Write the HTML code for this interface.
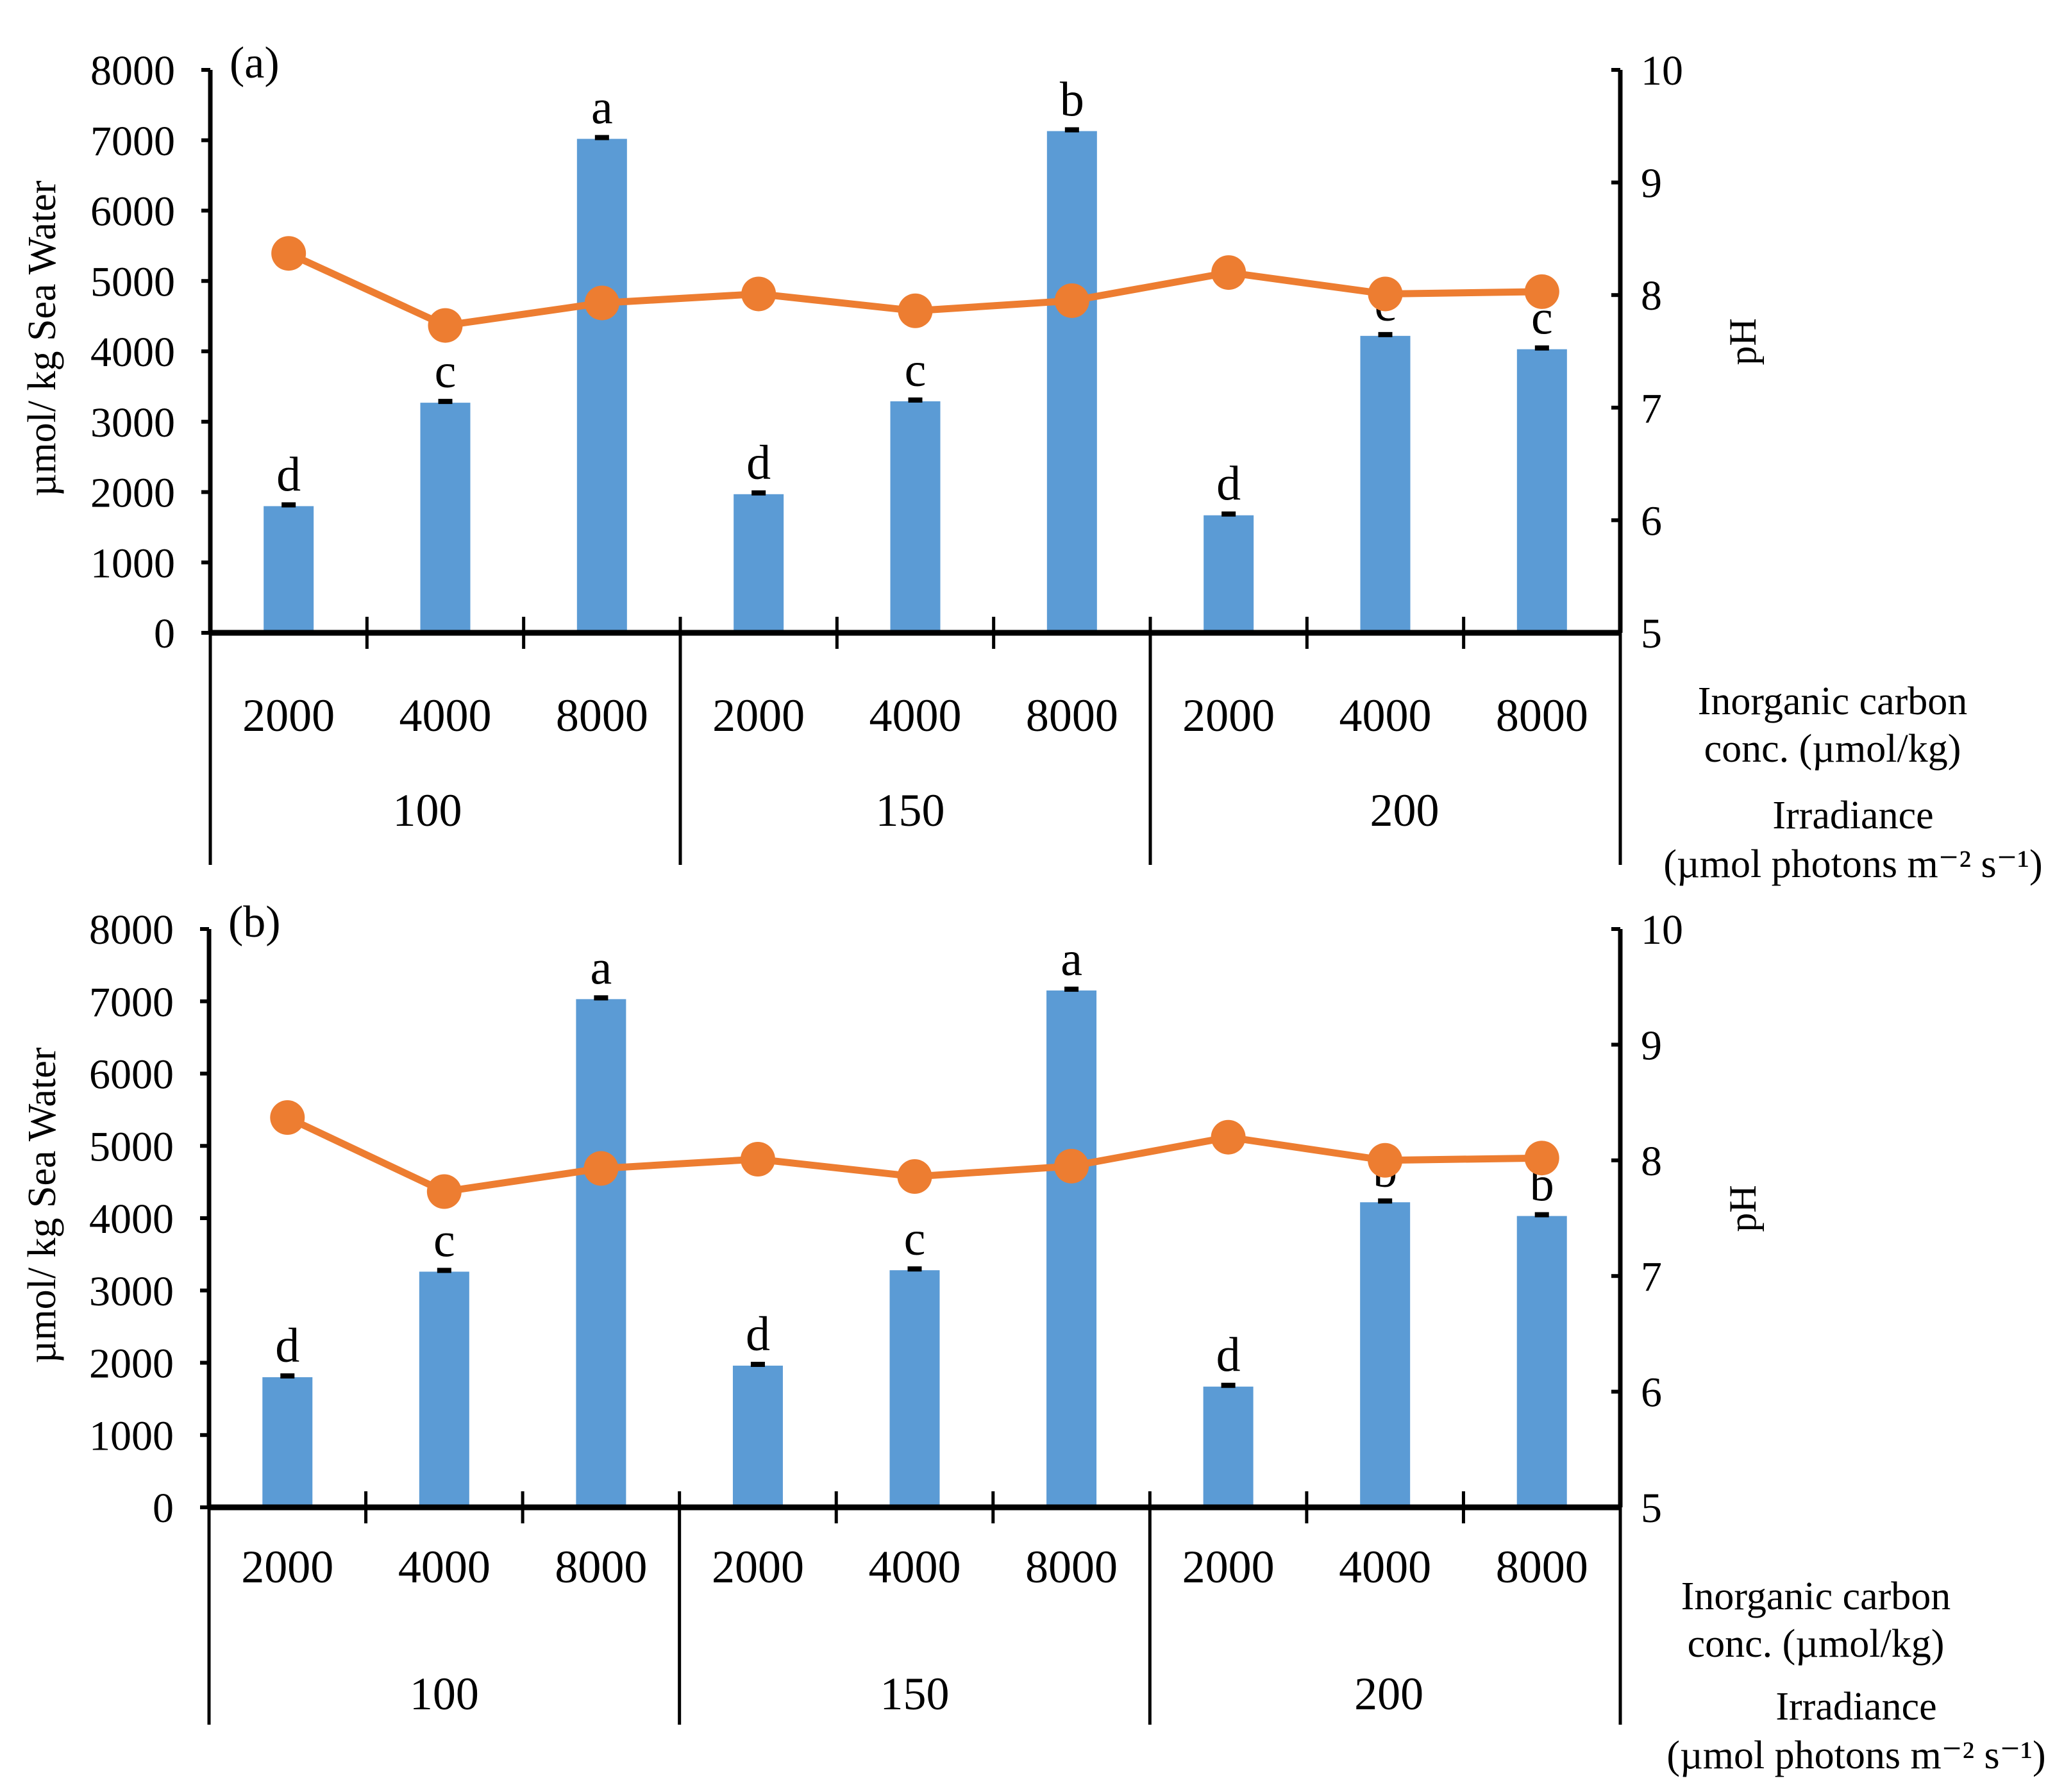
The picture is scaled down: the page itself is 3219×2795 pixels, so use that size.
<!DOCTYPE html>
<html><head><meta charset="utf-8"><style>
html,body{margin:0;padding:0;background:#fff;}
svg{display:block;font-family:"Liberation Serif",serif;}
</style></head><body>
<svg id="chart" width="3219" height="2795" viewBox="0 0 3219 2795" xmlns="http://www.w3.org/2000/svg"></svg>
<script>
const categories = ["2000","4000","8000","2000","4000","8000","2000","4000","8000"];
const groups = ["100","150","200"];
const barsA = [1800,3270,7020,1970,3290,7130,1670,4220,4030];
const barsB = [1800,3260,7030,1960,3280,7150,1670,4220,4030];
const phA = [8.37,7.73,7.93,8.01,7.86,7.95,8.20,8.01,8.03];
const phB = [8.37,7.73,7.93,8.01,7.86,7.95,8.20,8.00,8.02];
const lettersA = ["d","c","a","d","c","b","d","c","c"];
const lettersB = ["d","c","a","d","c","a","d","b","b"];
const leftTicks = [0,1000,2000,3000,4000,5000,6000,7000,8000];
const rightTicks = [5,6,7,8,9,10];

const svg = document.getElementById('chart');
const NS = 'http://www.w3.org/2000/svg';
function mk(tag, attrs, parent){const e=document.createElementNS(NS,tag);for(const k in attrs)e.setAttribute(k,attrs[k]);(parent||svg).appendChild(e);return e;}

function panel(p){
  const g = mk('g',{});
  
  
  const x0=p.x0, x1=p.x1, yTop=p.yTop, yBot=p.yBot;
  const cw=(x1-x0)/categories.length;
  const yL=v=>yBot-(v/8000)*(yBot-yTop);
  const yR=v=>yBot-((v-5)/5)*(yBot-yTop);
  const xc=i=>x0+cw*(i+0.5);
  p.bars.forEach((v,i)=>{
    const r=mk('rect',{x:xc(i)-39,y:yL(v),width:78,height:yBot-yL(v),fill:'#5b9bd5'},g);
    
    
    const eb=mk('rect',{x:xc(i)-11,y:yL(v)-6,width:22,height:8,fill:'#000'},g);
    
    
    const t=mk('text',{x:xc(i),y:yL(v)-24,'font-size':76,'text-anchor':'middle',fill:'#000'},g);
    t.textContent=p.letters[i];
    
    
  });
  const pts=p.ph.map((v,i)=>xc(i)+','+yR(v)).join(' ');
  const pl=mk('polyline',{points:pts,fill:'none',stroke:'#ed7d31','stroke-width':11},g);
  
  
  p.ph.forEach((v,i)=>{
    const c=mk('circle',{cx:xc(i),cy:yR(v),r:27,fill:'#ed7d31'},g);
    
    
  });
  const la=mk('line',{x1:x0,y1:yTop,x2:x0,y2:yBot,stroke:'#000','stroke-width':7},g);
  
  
  const ra=mk('line',{x1:x1,y1:yTop,x2:x1,y2:yBot,stroke:'#000','stroke-width':7},g);
  
  
  const xa=mk('line',{x1:x0,y1:yBot,x2:x1,y2:yBot,stroke:'#000','stroke-width':9},g);
  
  
  leftTicks.forEach(v=>{
    mk('line',{x1:x0-14,y1:yL(v),x2:x0,y2:yL(v),stroke:'#000','stroke-width':6},g);
    const t=mk('text',{x:x0-55,y:yL(v)+23,'font-size':66,'text-anchor':'end'},g);
    t.textContent=v;
    
    
  });
  rightTicks.forEach(v=>{
    mk('line',{x1:x1-14,y1:yR(v),x2:x1,y2:yR(v),stroke:'#000','stroke-width':6},g);
    const t=mk('text',{x:x1+32,y:yR(v)+23,'font-size':66,'text-anchor':'start'},g);
    t.textContent=v;
    
    
  });
  for(let i=1;i<categories.length;i++){
    const x=x0+cw*i;
    if(i%3===0){
      mk('line',{x1:x,y1:yBot-25,x2:x,y2:p.sepBot,stroke:'#000','stroke-width':5},g);
    } else {
      mk('line',{x1:x,y1:yBot-25,x2:x,y2:yBot+25,stroke:'#000','stroke-width':5},g);
    }
  }
  mk('line',{x1:x0,y1:yBot,x2:x0,y2:p.sepBot,stroke:'#000','stroke-width':5},g);
  mk('line',{x1:x1,y1:yBot,x2:x1,y2:p.sepBot,stroke:'#000','stroke-width':5},g);
  categories.forEach((c,i)=>{
    const t=mk('text',{x:xc(i),y:p.catY,'font-size':72,'text-anchor':'middle'},g);
    t.textContent=c;
    
    
  });
  groups.forEach((c,i)=>{
    const t=mk('text',{x:x0+cw*(3*i+1.5)+p.gOff[i],y:p.grpY,'font-size':72,'text-anchor':'middle'},g);
    t.textContent=c;
    
    
  });
  const pl2=mk('text',{x:x0+30,y:yTop+12,'font-size':70},g);
  pl2.textContent='('+p.id+')';
  
  
  const ly=(yTop+yBot)/2-20;
  const yt=mk('text',{x:0,y:0,'font-size':62,'text-anchor':'middle',transform:`translate(86,${ly}) rotate(-90)`},g);
  yt.textContent='µmol/ kg Sea Water';
  
  
  const pt=mk('text',{x:0,y:0,'font-size':60,'text-anchor':'middle',transform:`translate(2738,${ly+5}) rotate(-90)`},g);
  pt.textContent='pH';
  
  
  const lines=[['Inorganic carbon',p.lx1,p.ly1],['conc. (µmol/kg)',p.lx1,p.ly1+74],['Irradiance',p.lx2,p.ly2],['(µmol photons m⁻² s⁻¹)',p.lx2,p.ly2+76]];
  lines.forEach(l=>{
    const t=mk('text',{x:l[1],y:l[2],'font-size':62,'text-anchor':'middle'},g);
    t.textContent=l[0];
    
    
  });
}
panel({id:'a',x0:328,x1:2527,yTop:109,yBot:987,bars:barsA,ph:phA,letters:lettersA,catY:1140,grpY:1288,sepBot:1349,gOff:[-28,-8,30],lx1:2858,ly1:1114,lx2:2890,ly2:1292});
panel({id:'b',x0:326,x1:2527,yTop:1449,yBot:2351,bars:barsB,ph:phB,letters:lettersB,catY:2468,grpY:2666,sepBot:2690,gOff:[0,0,6],lx1:2832,ly1:2510,lx2:2895,ly2:2682});
</script>
</body></html>
